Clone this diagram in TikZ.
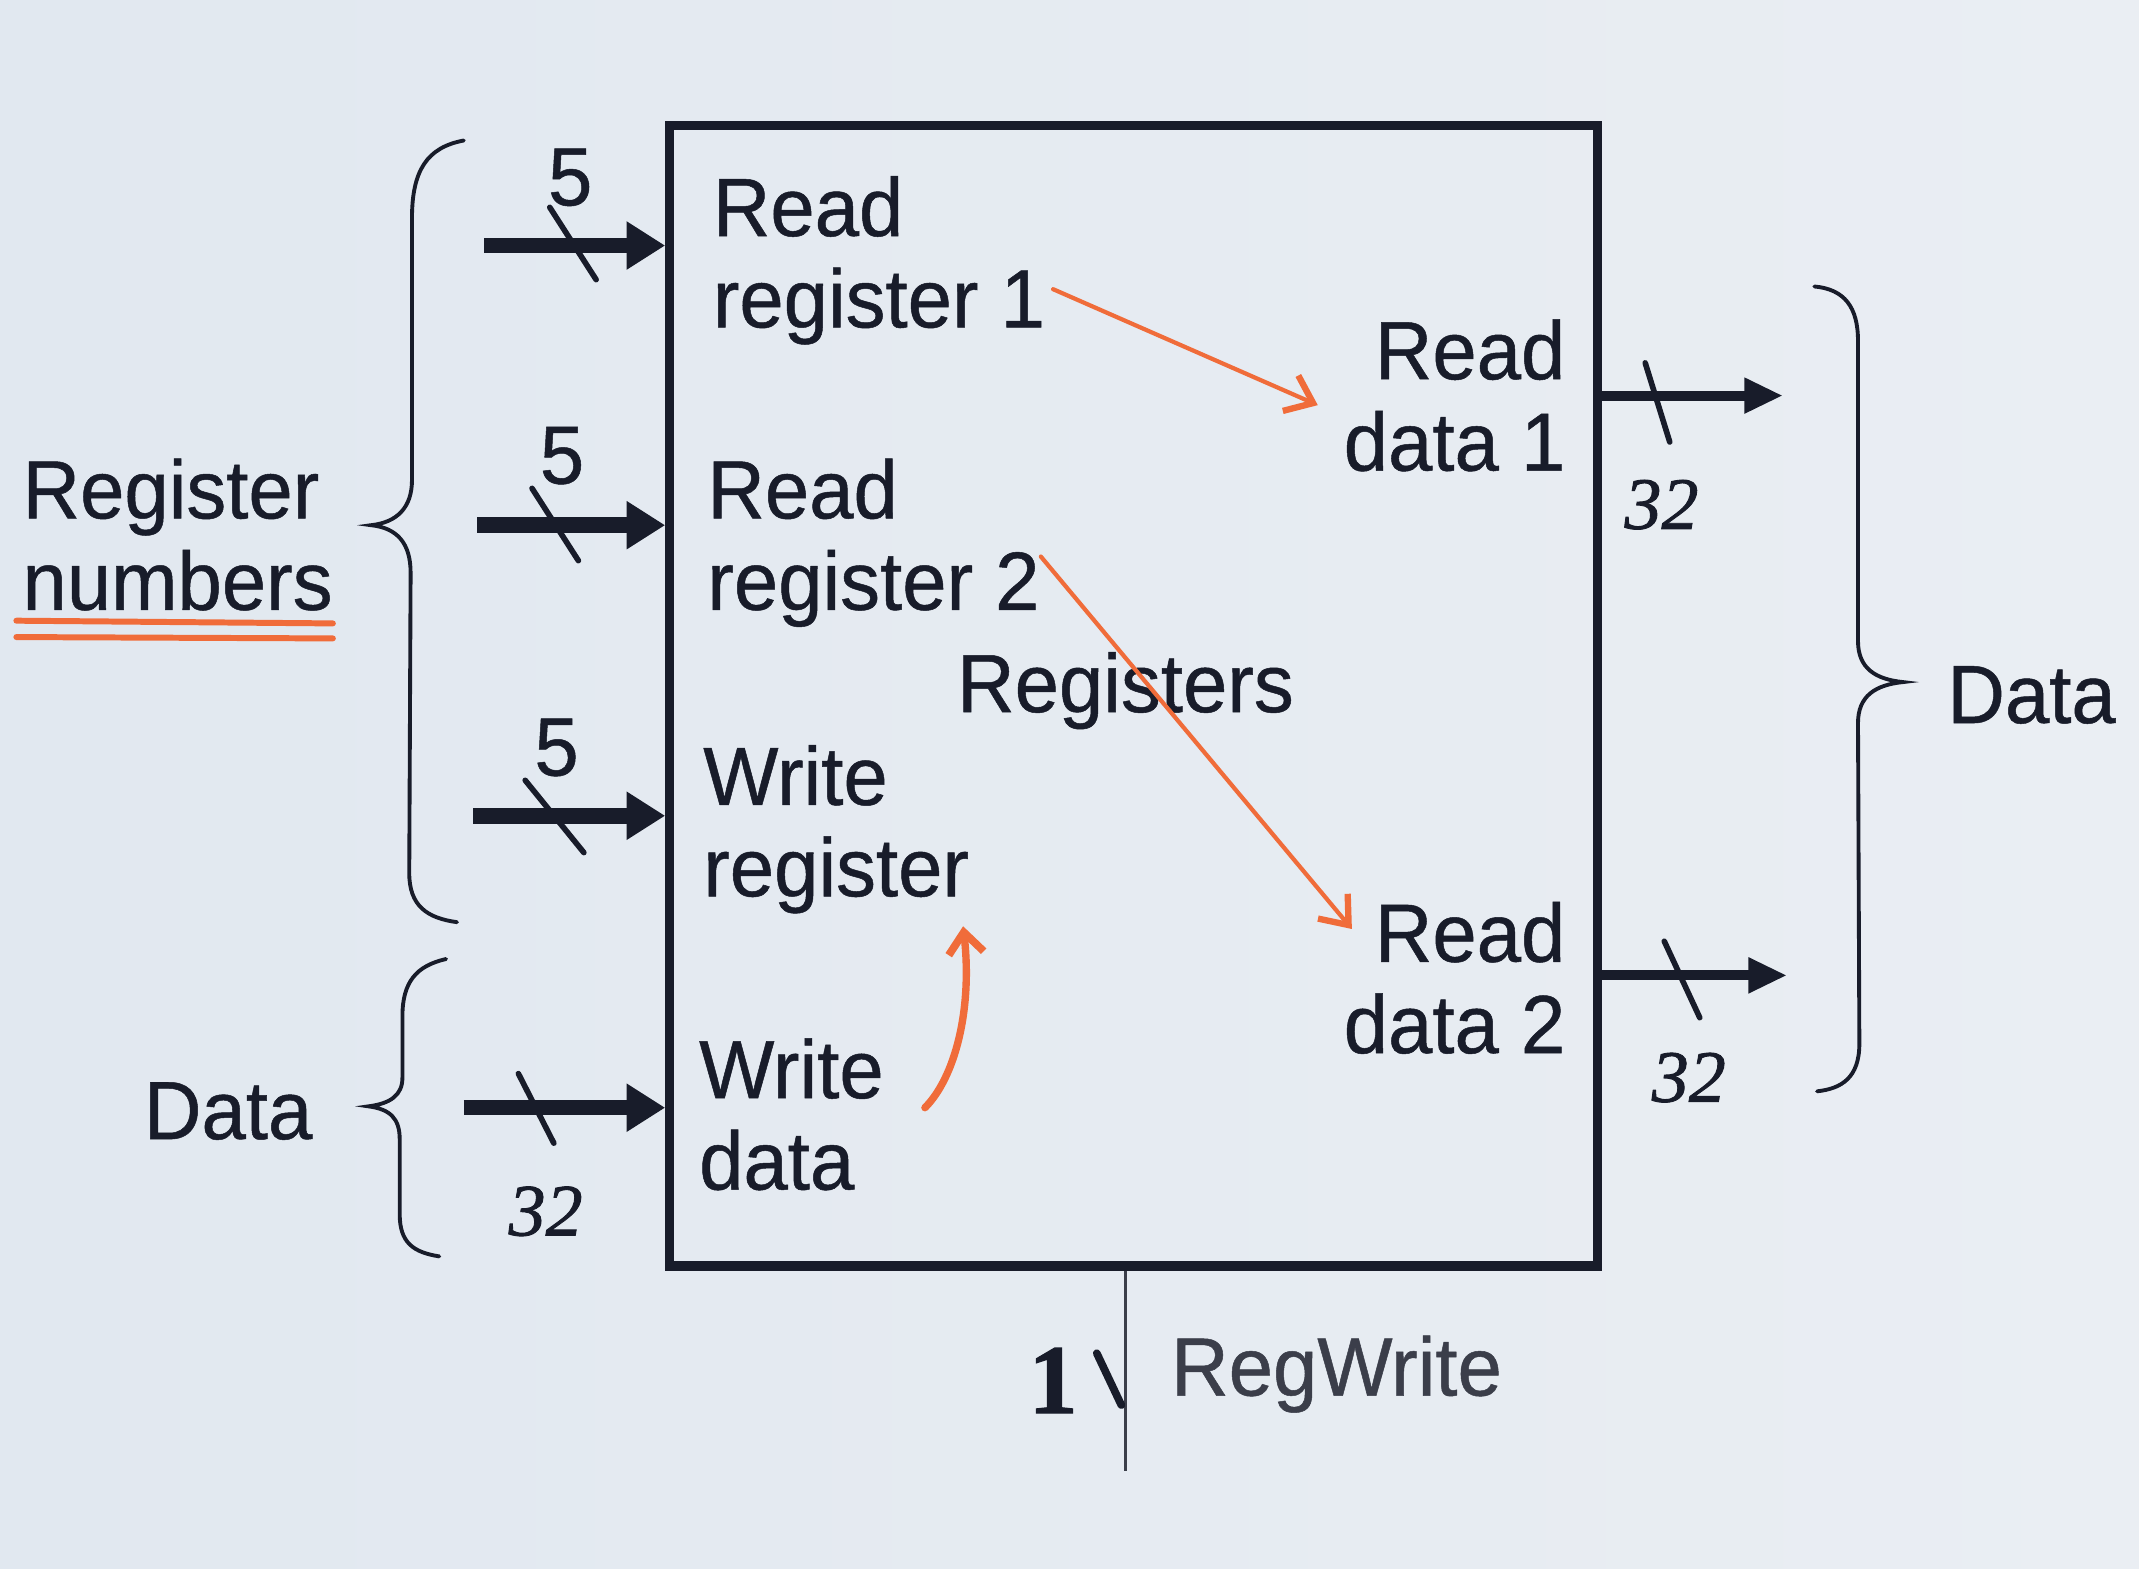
\documentclass[tikz,border=0pt]{standalone}
\usepackage{fontspec}
\setmainfont[FakeStretch=0.965,FakeBold=0.6]{Liberation Sans}
\newfontfamily\handfont[FakeBold=1.2]{Liberation Serif}
\usetikzlibrary{arrows.meta}
\definecolor{ink}{RGB}{24,28,42}
\definecolor{paper}{RGB}{225,232,240}
\definecolor{paperR}{RGB}{234,238,243}
\definecolor{pen}{RGB}{240,108,58}
\begin{document}
\begin{tikzpicture}[x=0.0136416cm,y=-0.0136416cm,
  lbl/.style={font=\fontsize{23.5}{26}\selectfont, inner sep=0pt, text=ink, align=left},
  lblr/.style={lbl, align=right},
  hand/.style={font=\handfont\itshape\fontsize{21}{21}\selectfont, inner sep=0pt, text=ink},
  busin/.style={draw=ink, line width=4.4pt, -{Triangle[length=11pt,width=13pt]}},
  busout/.style={draw=ink, line width=2.8pt, -{Triangle[length=11pt,width=9.5pt]}},
  slash/.style={draw=ink, line width=1.6pt, line cap=round},
  brace/.style={draw=ink, line width=1.1pt, line cap=round},
  penline/.style={draw=pen, line width=1.2pt, line cap=round, -{Straight Barb[length=7pt,width=11pt,line width=1.8pt]}},
  penthick/.style={draw=pen, line width=2.1pt, line cap=round, -{Straight Barb[length=6pt,width=10pt,line width=2.2pt]}},
  under/.style={draw=pen, line width=1.7pt, line cap=round}]
\useasboundingbox (0,0) rectangle (1568,1150);
\shade[left color=paper, right color=paperR] (0,0) rectangle (1568,1150);

% register file box
\node[draw=ink, line width=2.6pt, inner sep=0pt, minimum width=9.276cm, minimum height=11.404cm] (box) at (831,510) {};

% inputs
\coordinate (i1) at (355,180);
\coordinate (i2) at (350,385);
\coordinate (i3) at (347,598);
\coordinate (i4) at (340,812);
\draw[busin] (i1) -- (i1 -| box.west);
\draw[busin] (i2) -- (i2 -| box.west);
\draw[busin] (i3) -- (i3 -| box.west);
\draw[busin] (i4) -- (i4 -| box.west);
\draw[slash] (403,152) -- (437,205);
\draw[slash] (390,358) -- (424,411);
\draw[slash] (385,572) -- (428,625);
\draw[slash] (380,787) -- (406,838);
\node[lbl] (n1) at (418,130) {5};
\node[lbl] (n2) at (412,334) {5};
\node[lbl] (n3) at (408,548) {5};
\node[hand] (n4) at (400,888) {32};

% outputs
\coordinate (o1) at (1307,290);
\coordinate (o2) at (1310,715);
\draw[busout] (o1 -| box.east) -- (o1);
\draw[busout] (o2 -| box.east) -- (o2);
\draw[slash] (1206,266) -- (1224,324);
\draw[slash] (1220,690) -- (1246,746);
\node[hand] (n5) at (1218,370) {32};
\node[hand] (n6) at (1238,790) {32};

% RegWrite control
\coordinate (rw) at (825,1078);
\draw[draw=ink!85, line width=1pt] (rw |- box.south) -- (rw);
\draw[slash, line width=2.2pt] (804,992) -- (822,1030);
\node[hand, font=\handfont\bfseries\fontsize{28}{28}\selectfont] (n7) at (772,1012) {1};
\node[lbl, anchor=base west, text=ink!85] (rwl) at (858,1023) {RegWrite};

% labels inside the box (anchor = baseline of last line)
\node[lbl, anchor=base west] (rr1) at (522,240) {Read\\register 1};
\node[lbl, anchor=base west] (rr2) at (518,447) {Read\\register 2};
\node[lbl, anchor=base west] (wr) at (515,657) {Write\\register};
\node[lbl, anchor=base west] (wd) at (512,872) {Write\\data};
\node[lblr, anchor=base east] (rd1) at (1148,345) {Read\\data 1};
\node[lblr, anchor=base east] (rd2) at (1148,772) {Read\\data 2};
\node[lbl, anchor=base] (reg) at (825,522) {Registers};

% outside labels
\node[lbl, anchor=base west] (rn) at (16,447) {Register\\numbers};
\node[lbl, anchor=base west] (dl) at (105,835) {Data};
\node[lbl, anchor=base west] (dr) at (1427,530) {Data};

% braces
\draw[brace] (340,103) .. controls (313,108) and (302,125) .. (302,160) -- (302,352) .. controls (302,372) and (291,383) .. (272,385) .. controls (291,387) and (301,398) .. (301,420) -- (300,640) .. controls (300,664) and (313,673) .. (335,676);
\draw[brace] (327,703) .. controls (305,708) and (295,720) .. (295,745) -- (295,790) .. controls (295,803) and (286,809) .. (270,811) .. controls (286,813) and (293,820) .. (293,835) -- (293,890) .. controls (293,911) and (303,918) .. (322,921);
\draw[brace] (1330,210) .. controls (1352,212) and (1362,225) .. (1362,250) -- (1362,470) .. controls (1362,490) and (1375,498) .. (1395,500) .. controls (1375,502) and (1362,510) .. (1362,530) -- (1363,765) .. controls (1363,790) and (1350,798) .. (1332,800);

% pen annotations
\draw[under] (12,455) -- (244,457);
\draw[under] (12,467) -- (244,468);
\draw[penline] (772,212) -- (966,297);
\draw[penline] (763,408) -- (991,681);
\draw[penthick] (678,812) .. controls (700,790) and (713,740) .. (706,679);
\end{tikzpicture}
\end{document}
